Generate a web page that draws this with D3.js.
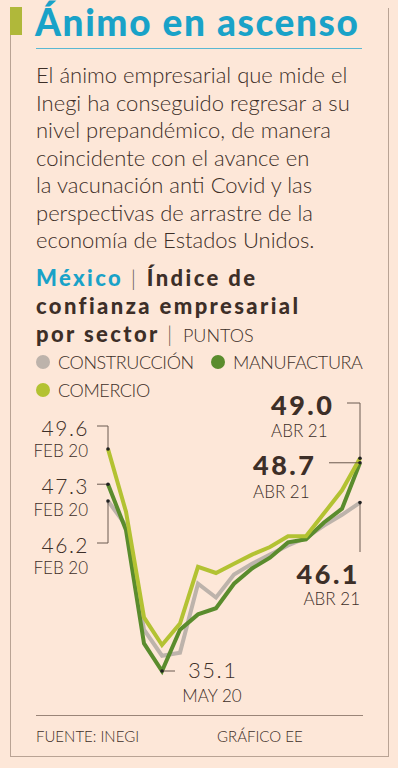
<html>
<head>
<meta charset="utf-8">
<script src="https://cdn.jsdelivr.net/npm/d3@7"></script>
<style>
body { margin: 0; background: #fde7d8; }
text { font-family: "Lato", "Open Sans", sans-serif; fill: #3d2f28; }
</style>
</head>
<body>
<div id="chart"></div>
<script>
var months = ["FEB 20", "MAR 20", "ABR 20", "MAY 20", "JUN 20", "JUL 20", "AGO 20", "SEP 20",
              "OCT 20", "NOV 20", "DIC 20", "ENE 21", "FEB 21", "MAR 21", "ABR 21"];
var construccion = [46.2, 44.6, 37.8, 36.1, 36.3, 40.8, 39.9, 41.4, 42.1, 42.7, 43.3, 43.8, 44.6, 45.3, 46.1];
var manufactura = [47.3, 44.3, 36.9, 35.1, 37.8, 38.8, 39.2, 40.8, 41.8, 42.5, 43.5, 43.7, 44.8, 45.7, 48.7];
var comercio = [49.6, 45.5, 38.6, 36.8, 38.2, 41.9, 41.5, 42.1, 42.7, 43.2, 43.9, 43.9, 45.4, 46.9, 49.0];
var seriesNames = ["CONSTRUCCIÓN", "MANUFACTURA", "COMERCIO"];
var seriesColors = ["#bdb3ab", "#5a8c2d", "#b3c232"];
var bodyLines = ["El ánimo empresarial que mide el",
                 "Inegi ha conseguido regresar a su",
                 "nivel prepandémico, de manera",
                 "coincidente con el avance en",
                 "la vacunación anti Covid y las",
                 "perspectivas de arrastre de la",
                 "economía de Estados Unidos."];

var W = 398, H = 768;
var svg = d3.select("#chart").append("svg").attr("width", W).attr("height", H);

svg.append("rect").attr("width", W).attr("height", H).attr("fill", "#fde7d8");

// frame
var frame = "#b9a394";
svg.append("line").attr("x1", 10.5).attr("x2", 10.5).attr("y1", 35).attr("y2", 756).attr("stroke", frame);
svg.append("line").attr("x1", 388.5).attr("x2", 388.5).attr("y1", 8).attr("y2", 756).attr("stroke", frame);
svg.append("line").attr("x1", 10).attr("x2", 389).attr("y1", 756.5).attr("y2", 756.5).attr("stroke", frame);
svg.append("rect").attr("x", 10).attr("y", 7).attr("width", 12).attr("height", 28).attr("fill", "#b0b83a");

// title
svg.append("text").attr("x", 35).attr("y", 36)
    .style("font-size", "37px").style("font-weight", "900").style("fill", "#19a2c8")
    .style("letter-spacing", "1.6px")
    .text("Ánimo en ascenso");
svg.append("line").attr("x1", 36).attr("x2", 362).attr("y1", 48.5).attr("y2", 48.5)
    .attr("stroke", "#5bb8d2").attr("stroke-width", 1);

svg.selectAll(".body").data(bodyLines).enter().append("text")
    .attr("class", "body")
    .attr("x", 36)
    .attr("y", function (d, i) { return 83 + i * 27.5; })
    .style("font-size", "22px").style("font-weight", "300")
    .text(function (d) { return d; });

// chart heading
var hs = "2.4px";
var h1 = svg.append("text").attr("x", 36).attr("y", 286).style("font-size", "22px").style("font-weight", "900").style("letter-spacing", hs);
h1.append("tspan").style("fill", "#19a2c8").text("México ");
h1.append("tspan").style("font-weight", "300").style("fill", "#6b5a50").text("| ");
h1.append("tspan").text("Índice de");
svg.append("text").attr("x", 36).attr("y", 314).style("font-size", "22px").style("font-weight", "900").style("letter-spacing", hs)
    .text("confianza empresarial");
var h3 = svg.append("text").attr("x", 36).attr("y", 342).style("font-size", "22px").style("font-weight", "900").style("letter-spacing", hs);
h3.append("tspan").text("por sector ");
h3.append("tspan").style("font-weight", "300").style("fill", "#6b5a50").text("| ");
h3.append("tspan").style("font-weight", "300").style("font-size", "18px").style("letter-spacing", "0px").text("PUNTOS");

// legend
var legendPos = [[43, 362], [218, 362], [43, 390]];
var legend = svg.selectAll(".legend").data(seriesNames).enter().append("g")
    .attr("transform", function (d, i) { return "translate(" + legendPos[i][0] + "," + legendPos[i][1] + ")"; });
legend.append("circle").attr("r", 7).attr("fill", function (d, i) { return seriesColors[i]; });
legend.append("text").attr("x", 15).attr("y", 6.5)
    .style("font-size", "18px").style("font-weight", "300").style("letter-spacing", "-0.4px")
    .text(function (d) { return d; });

// scales
var x = d3.scalePoint().domain(months).range([108, 360]);
var y = d3.scaleLinear().domain([35.1, 49.6]).range([671, 449]);

var line = d3.line()
    .x(function (d, i) { return x(months[i]); })
    .y(function (d) { return y(d); });

var allSeries = [construccion, manufactura, comercio];
svg.selectAll(".series").data(allSeries).enter().append("path")
    .attr("d", line)
    .attr("fill", "none")
    .attr("stroke", function (d, i) { return seriesColors[i]; })
    .attr("stroke-width", 4)
    .attr("stroke-linejoin", "miter");

// annotations
var lead = "#6b5a50";
function leader(pts) {
    svg.append("path").attr("d", d3.line()(pts)).attr("fill", "none").attr("stroke", lead).attr("stroke-width", 1);
}
function dot(xv, yv) {
    svg.append("circle").attr("cx", xv).attr("cy", yv).attr("r", 1.8).attr("fill", "#222");
}
var fmt = d3.format(".1f");
var last = months.length - 1;
var x0 = x(months[0]), xL = x(months[last]);

// FEB 20 labels
var leftLabels = [[comercio[0], 436, 457], [manufactura[0], 494, 516], [construccion[0], 553, 574]];
leftLabels.forEach(function (l) {
    svg.append("text").attr("x", 89).attr("y", l[1]).attr("text-anchor", "end")
        .style("font-size", "21px").style("font-weight", "300").style("letter-spacing", "1.5px").text(fmt(l[0]));
    svg.append("text").attr("x", 88).attr("y", l[2]).attr("text-anchor", "end")
        .style("font-size", "17px").style("font-weight", "300").text(months[0]);
});
leader([[97, 426], [x0, 426], [x0, y(comercio[0])]]);
leader([[97, y(manufactura[0])], [x0, y(manufactura[0])]]);
leader([[97, 543], [x0, 543], [x0, y(construccion[0])]]);

// minimum
var iMin = d3.minIndex(manufactura);
leader([[x(months[iMin]), y(manufactura[iMin])], [175, y(manufactura[iMin])]]);
svg.append("text").attr("x", 188).attr("y", 678)
    .style("font-size", "22px").style("font-weight", "300").style("letter-spacing", "1.5px").text(fmt(manufactura[iMin]));
svg.append("text").attr("x", 212).attr("y", 702).attr("text-anchor", "middle")
    .style("font-size", "17px").style("font-weight", "300").text(months[iMin]);

// ABR 21 labels
var big = function (sel) {
    return sel.style("font-size", "27px").style("font-weight", "900").style("letter-spacing", "2.5px");
};
big(svg.append("text").attr("x", 271).attr("y", 415)).text(fmt(comercio[last]));
svg.append("text").attr("x", 271).attr("y", 437).style("font-size", "17px").style("font-weight", "300").text(months[last]);
leader([[347, 403], [xL, 403], [xL, y(comercio[last])]]);

big(svg.append("text").attr("x", 253).attr("y", 475)).text(fmt(manufactura[last]));
svg.append("text").attr("x", 253).attr("y", 498).style("font-size", "17px").style("font-weight", "300").text(months[last]);
leader([[329, y(manufactura[last])], [xL, y(manufactura[last])]]);

big(svg.append("text").attr("x", 360).attr("y", 584).attr("text-anchor", "end")).text(fmt(construccion[last]));
svg.append("text").attr("x", 360).attr("y", 605).attr("text-anchor", "end").style("font-size", "17px").style("font-weight", "300").text(months[last]);
leader([[xL, y(construccion[last])], [xL, 552]]);

[comercio, manufactura, construccion].forEach(function (s) {
    dot(x0, y(s[0]));
    dot(xL, y(s[last]));
});
dot(x(months[iMin]), y(manufactura[iMin]));

// footer
svg.append("line").attr("x1", 36).attr("x2", 363).attr("y1", 715.5).attr("y2", 715.5).attr("stroke", "#9a8578");
svg.append("text").attr("x", 36).attr("y", 742).style("font-size", "15px").style("font-weight", "300").text("FUENTE: INEGI");
svg.append("text").attr("x", 217).attr("y", 742).style("font-size", "15px").style("font-weight", "300").text("GRÁFICO EE");
</script>
</body>
</html>
